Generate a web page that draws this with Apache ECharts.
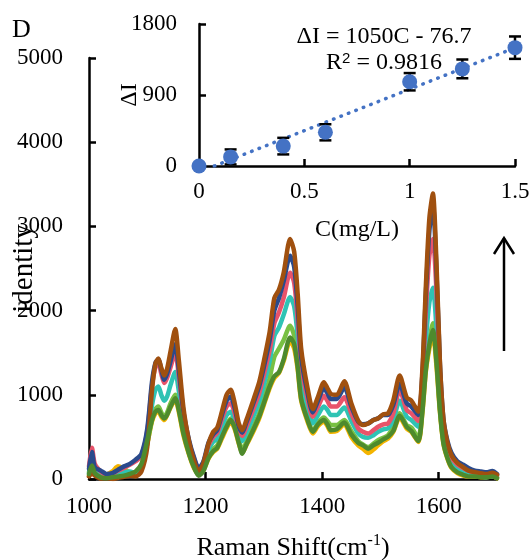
<!DOCTYPE html>
<html><head><meta charset="utf-8">
<script src="https://cdn.jsdelivr.net/npm/echarts@6/dist/echarts.min.js"></script>
<style>html,body{margin:0;padding:0;background:#fff}#c{width:532px;height:560px}</style>
</head><body><div id="c"></div>
<script>
// ---------- main spectra data ----------
const wavenumbers = [
 1000,1005,1010,1020,1030,1040,1050,1060,1070,1080,
 1090,1100,1108,1114,1119,1124,1129,1134,1140,1148,
 1154,1162,1172,1180,1188,1196,1205,1213,1220,1228,
 1236,1243,1250,1257,1263,1270,1283,1292,1300,1310,
 1318,1326,1334,1345,1352,1358,1364,1375,1384,1393,
 1403,1409,1415,1425,1438,1450,1462,1470,1479,1488,
 1496,1505,1513,1522,1533,1545,1553,1565,1572,1578,
 1584,1590,1596,1602,1608,1615,1622,1632,1642,1651,
 1662,1672,1682,1692,1700];

const specYellow = [
 40,120,60,30,50,90,150,120,80,60,
 150,420,680,780,800,740,700,760,850,940,
 800,520,280,130,60,100,240,320,360,480,
 600,680,590,420,310,400,580,720,880,1080,
 1200,1260,1400,1640,1550,1300,930,680,540,630,
 680,630,560,570,650,500,400,360,310,350,
 400,450,480,560,730,600,560,440,780,1280,
 1550,1720,1350,800,420,240,130,70,40,30,
 30,20,20,30,10];
const specLightGreen = [
 80,220,90,40,30,50,70,80,60,50,
 130,420,700,830,860,790,740,790,900,1000,
 850,560,300,150,50,110,280,360,400,530,
 650,720,630,470,340,440,640,780,950,1200,
 1450,1550,1650,1820,1700,1400,1000,720,570,670,
 730,690,640,640,700,570,450,410,380,420,
 460,490,520,620,780,640,610,490,850,1400,
 1650,1850,1450,850,450,260,150,90,60,40,
 40,30,30,40,20];
const specTeal = [
 60,200,100,40,20,30,50,80,90,70,
 120,450,870,1060,1100,1000,930,980,1120,1270,
 1050,680,380,220,100,160,350,440,480,620,
 760,800,690,520,450,550,760,920,1120,1400,
 1700,1800,1950,2160,2050,1700,1200,850,660,760,
 860,820,760,760,850,690,540,500,490,520,
 560,590,600,700,930,740,700,620,1000,1650,
 2100,2270,1800,1050,560,330,200,120,80,50,
 40,30,20,30,20];
const specPink = [
 150,370,180,90,50,60,100,130,170,210,
 280,570,1100,1330,1380,1250,1140,1200,1330,1500,
 1230,760,430,250,120,190,400,500,550,710,
 860,900,780,580,510,620,850,1020,1240,1530,
 1850,1980,2150,2450,2330,1900,1350,950,740,860,
 990,930,860,860,970,780,600,560,540,580,
 620,650,660,780,1060,820,780,690,1150,2000,
 2650,2850,2250,1250,650,400,260,170,130,100,
 80,70,60,80,45];
const specBlue = [
 120,320,140,100,60,70,110,150,180,230,
 300,600,1150,1380,1420,1300,1180,1250,1400,1600,
 1300,800,450,260,130,200,430,530,580,760,
 930,980,840,620,550,670,920,1100,1330,1650,
 2000,2150,2350,2650,2520,2050,1450,1020,790,930,
 1080,1020,950,950,1090,860,680,650,660,700,
 720,760,760,880,1130,900,860,760,1250,2200,
 2950,3250,2500,1380,720,450,310,210,170,130,
 100,90,80,95,60];
const specBrown = [
 30,70,40,5,10,0,15,25,40,30,
 90,380,1050,1370,1430,1320,1230,1310,1520,1780,
 1420,850,430,220,90,180,420,560,610,800,
 1000,1060,900,660,580,700,960,1150,1400,1750,
 2150,2250,2450,2850,2700,2200,1550,1080,830,980,
 1150,1080,1010,1000,1160,900,690,640,660,700,
 720,770,780,930,1230,970,930,800,1300,2300,
 3100,3390,2600,1400,720,430,280,190,140,100,
 80,70,60,75,50];
const specDarkGreen = [
 60,160,70,20,10,20,30,40,60,90,
 180,460,700,800,820,760,720,760,860,960,
 820,540,290,140,40,90,250,330,370,500,
 620,700,610,430,300,410,600,740,900,1100,
 1220,1270,1420,1680,1600,1330,950,700,560,650,
 700,650,580,590,670,530,430,400,360,400,
 430,470,500,570,750,620,570,450,800,1300,
 1600,1770,1400,820,430,250,140,80,50,30,
 30,20,20,30,10];

const mainXTicks = [1000, 1200, 1400, 1600];
const mainYTicks = [0, 1000, 2000, 3000, 4000, 5000];

// ---------- inset data ----------
const conc = [0, 0.15, 0.4, 0.6, 1.0, 1.25, 1.5];
const deltaI = [0, 115, 252, 427, 1068, 1231, 1500];
const errBar = [0, 95, 105, 102, 110, 119, 142];
const fitSlope = 1050, fitIntercept = -76.7, fitR2 = 0.9816;
const insetXTicks = [0, 0.5, 1, 1.5];
const insetYTicks = [0, 900, 1800];

const FONT = '"Liberation Serif", "Times New Roman", serif';
const chart = echarts.init(document.getElementById('c'), null, {renderer: 'canvas'});

const spectra = [
  {name: '0', data: specYellow, color: '#F4B400'},
  {name: '1', data: specLightGreen, color: '#78C043'},
  {name: '2', data: specTeal, color: '#2FC3B4'},
  {name: '3', data: specPink, color: '#E8536A'},
  {name: '4', data: specBlue, color: '#2A4A8C'},
  {name: '5', data: specBrown, color: '#A0500F'},
  {name: '6', data: specDarkGreen, color: '#4E8A2D'}
];

const plain = v => String(v);
const axisCommon = {
  axisLine: {show: true, onZero: false, lineStyle: {color: '#000', width: 2.5}},
  axisTick: {show: true, inside: true, length: 7, lineStyle: {color: '#000', width: 2.5}},
  splitLine: {show: false},
  nameMoveOverlap: false,
  axisLabel: {color: '#000', fontFamily: FONT, fontSize: 23, formatter: plain}
};
function ax(extra) {
  const o = Object.assign({}, axisCommon, extra);
  o.axisTick = Object.assign({}, axisCommon.axisTick, extra.axisTick || {});
  o.axisLabel = Object.assign({}, axisCommon.axisLabel, extra.axisLabel || {});
  return o;
}

const seriesList = spectra.map(s => ({
  type: 'line', xAxisIndex: 0, yAxisIndex: 0,
  data: wavenumbers.map((w, i) => [w, s.data[i]]),
  showSymbol: false, smooth: 0.25,
  lineStyle: {color: s.color, width: 4.5, join: 'round', cap: 'round'},
  itemStyle: {color: s.color},
  z: 2
}));

const fitX0 = -fitIntercept / fitSlope;
const fitX1 = conc[conc.length - 1];
seriesList.push({
  type: 'line', xAxisIndex: 1, yAxisIndex: 1,
  data: [[fitX0, 0], [fitX1, fitSlope * fitX1 + fitIntercept]],
  showSymbol: false,
  lineStyle: {color: '#4472C4', width: 3.5, type: [0.5, 7.5], cap: 'round'},
  z: 3
});
seriesList.push({
  type: 'custom', xAxisIndex: 1, yAxisIndex: 1,
  data: conc.map((c, i) => [c, deltaI[i] - errBar[i], deltaI[i] + errBar[i], errBar[i]]),
  renderItem: function (params, api) {
    if (api.value(3) === 0) return null;
    const x = api.value(0);
    const p1 = api.coord([x, api.value(2)]);
    const p2 = api.coord([x, api.value(1)]);
    const hw = 6;
    const st = {stroke: '#000', lineWidth: 2.5};
    return {type: 'group', children: [
      {type: 'line', shape: {x1: p1[0], y1: p1[1], x2: p2[0], y2: p2[1]}, style: st},
      {type: 'line', shape: {x1: p1[0] - hw, y1: p1[1], x2: p1[0] + hw, y2: p1[1]}, style: st},
      {type: 'line', shape: {x1: p2[0] - hw, y1: p2[1], x2: p2[0] + hw, y2: p2[1]}, style: st}
    ]};
  },
  clip: false, z: 4
});
seriesList.push({
  type: 'scatter', xAxisIndex: 1, yAxisIndex: 1,
  data: conc.map((c, i) => [c, deltaI[i]]),
  symbol: 'circle', symbolSize: 15,
  itemStyle: {color: '#4472C4', opacity: 1},
  clip: false, z: 5
});

const option = {
  animation: false,
  backgroundColor: '#fff',
  grid: [
    {left: 89, top: 58, right: 35, bottom: 81, containLabel: false, outerBoundsMode: 'none'},
    {left: 199, top: 24, right: 17, bottom: 394, containLabel: false, outerBoundsMode: 'none'}
  ],
  xAxis: [
    ax({
      type: 'value', gridIndex: 0, min: 1000, max: 1700, interval: 100,
      axisTick: {customValues: mainXTicks},
      axisLabel: {margin: 16, customValues: mainXTicks},
      name: 'Raman Shift(cm{sup|-1})', nameLocation: 'middle', nameGap: 54,
      nameTextStyle: {color: '#000', fontFamily: FONT, fontSize: 26, lineHeight: 30,
        rich: {sup: {fontFamily: FONT, fontSize: 16, lineHeight: 16, verticalAlign: 'top', color: '#000'}}}
    }),
    ax({
      type: 'value', gridIndex: 1, min: 0, max: 1.5, interval: 0.5,
      axisTick: {customValues: insetXTicks},
      axisLabel: {margin: 14, customValues: insetXTicks},
      name: 'C(mg/L)', nameLocation: 'middle', nameGap: 52,
      nameTextStyle: {color: '#000', fontFamily: FONT, fontSize: 24}
    })
  ],
  yAxis: [
    ax({
      type: 'value', gridIndex: 0, min: 0, max: 5000, interval: 1000,
      axisTick: {customValues: mainYTicks},
      axisLabel: {margin: 26, customValues: mainYTicks},
      name: 'identity', nameLocation: 'middle', nameGap: 50, nameRotate: 90,
      nameTextStyle: {color: '#000', fontFamily: FONT, fontSize: 29}
    }),
    ax({
      type: 'value', gridIndex: 1, min: 0, max: 1800, interval: 900,
      axisTick: {customValues: insetYTicks},
      axisLabel: {margin: 22, customValues: insetYTicks},
      name: 'ΔI', nameLocation: 'middle', nameGap: 57, nameRotate: 90,
      nameTextStyle: {color: '#000', fontFamily: FONT, fontSize: 24}
    })
  ],
  series: seriesList,
  graphic: [
    {type: 'text', x: 12, y: 30, style: {text: 'D', font: '26px ' + FONT, fill: '#000', align: 'left', verticalAlign: 'middle'}},
    {type: 'text', x: 384, y: 37, style: {
      text: 'ΔI = ' + fitSlope + 'C - ' + Math.abs(fitIntercept),
      font: '24px ' + FONT, fill: '#000', align: 'center', verticalAlign: 'middle'}},
    {type: 'text', x: 384, y: 63, style: {
      text: 'R{sup|2} = ' + fitR2,
      font: '24px ' + FONT, fill: '#000', align: 'center', verticalAlign: 'middle',
      rich: {sup: {font: '15px ' + FONT, fontSize: 15, lineHeight: 15, verticalAlign: 'top', fill: '#000'}}}},
    {type: 'line', shape: {x1: 504, y1: 238, x2: 504, y2: 351}, style: {stroke: '#000', lineWidth: 2.5}},
    {type: 'polyline', shape: {points: [[494, 254], [504, 238], [514, 254]]},
      style: {stroke: '#000', lineWidth: 2.5, fill: null}}
  ]
};
chart.setOption(option);
</script>
</body></html>
